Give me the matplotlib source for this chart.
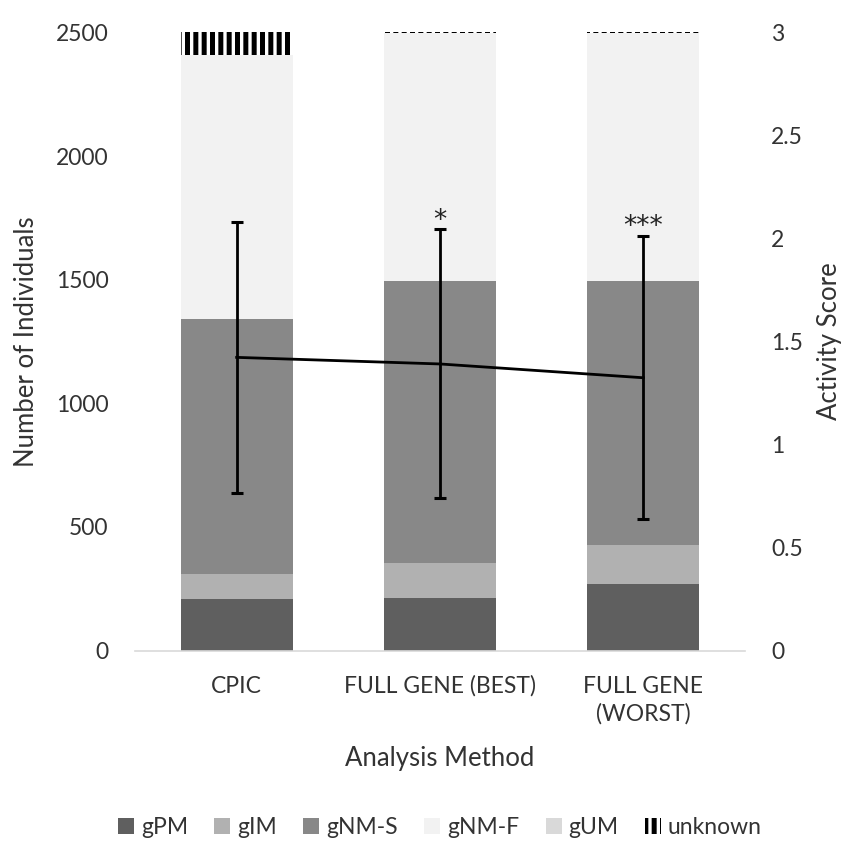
import numpy as np
import matplotlib
matplotlib.use("Agg")
import matplotlib.pyplot as plt

plt.rcParams['font.family'] = ['Lato', 'DejaVu Sans']
plt.rcParams['hatch.linewidth'] = 3.6
plt.rcParams['hatch.color'] = 'black'

# data
methods = ['CPIC', 'FULL GENE (BEST)', 'FULL GENE\n(WORST)']
gPM = [207, 214, 268]
gIM = [101, 139, 158]
gNM_S = [1032, 1143, 1070]
gNM_F = [1069, 1000, 1000]
gUM = [0, 0, 0]
unknown = [92, 6, 6]

activity = [1.423, 1.391, 1.324]
activity_sd = [0.657, 0.653, 0.688]
signif = ['', '*', '***']

txt = '#333333'
fig = plt.figure(figsize=(8.56, 8.51), dpi=100)
ax = fig.add_axes([0.1577, 0.2356, 0.7126, 0.7262])

x = np.arange(len(methods))
w = 0.55
series = [
    ('gPM', gPM, '#5f5f5f', None),
    ('gIM', gIM, '#b1b1b1', None),
    ('gNM-S', gNM_S, '#888888', None),
    ('gNM-F', gNM_F, '#f2f2f2', None),
    ('gUM', gUM, '#d9d9d9', None),
    ('unknown', unknown, 'white', '||'),
]
bottom = np.zeros(len(methods))
for name, vals, col, hatch in series:
    if hatch:
        ax.bar(x, vals, w, bottom=bottom, color=col, edgecolor='black',
               linewidth=0, hatch=hatch, label=name, clip_on=False)
    else:
        ax.bar(x, vals, w, bottom=bottom, color=col, linewidth=0,
               label=name, clip_on=False)
    bottom += np.array(vals)

ax.set_xlim(-0.5, 2.5)
ax.set_ylim(0, 2500)
ax.set_yticks(range(0, 2501, 500))
for s in ['top', 'left', 'right']:
    ax.spines[s].set_visible(False)
ax.spines['bottom'].set_color('#d9d9d9')
ax.spines['bottom'].set_linewidth(1.2)
ax.set_xticks(x)
ax.set_xticklabels(methods, fontsize=16.5, color=txt, linespacing=1.35)
ax.tick_params(axis='x', length=0, pad=18)
ax.tick_params(axis='y', length=0, pad=19, labelsize=16.5, labelcolor=txt)
ax.set_ylabel('Number of Individuals', fontsize=18.5, color=txt, labelpad=12)
ax.set_xlabel('Analysis Method', fontsize=18.5, color=txt, labelpad=16)

ax2 = ax.twinx()
ax2.set_ylim(0, 3)
ax2.set_yticks([0, 0.5, 1, 1.5, 2, 2.5, 3])
ax2.set_yticklabels(['0', '0.5', '1', '1.5', '2', '2.5', '3'])
for s in ax2.spines.values():
    s.set_visible(False)
ax2.tick_params(axis='y', length=0, pad=19, labelsize=16.5, labelcolor=txt)
ax2.set_ylabel('Activity Score', fontsize=18.5, color=txt, labelpad=10)
ax2.errorbar(x, activity, yerr=activity_sd, color='black', lw=2,
             capsize=4.5, capthick=2.2, elinewidth=2)
for xi, m, sd, s in zip(x, activity, activity_sd, signif):
    if s:
        ax2.annotate(s, (xi, m + sd), xytext=(0, -3), textcoords='offset points',
                     ha='center', va='bottom', fontsize=19, color='#222222',
                     family='DejaVu Sans')

handles, labels = ax.get_legend_handles_labels()
fig.legend(handles, labels, loc='center', bbox_to_anchor=(0.514, 0.028),
           ncol=6, frameon=False, fontsize=16.5, handlelength=0.7,
           handleheight=0.7, handletextpad=0.3, columnspacing=1.15,
           labelcolor=txt)

fig.savefig('out.png', dpi=100)
